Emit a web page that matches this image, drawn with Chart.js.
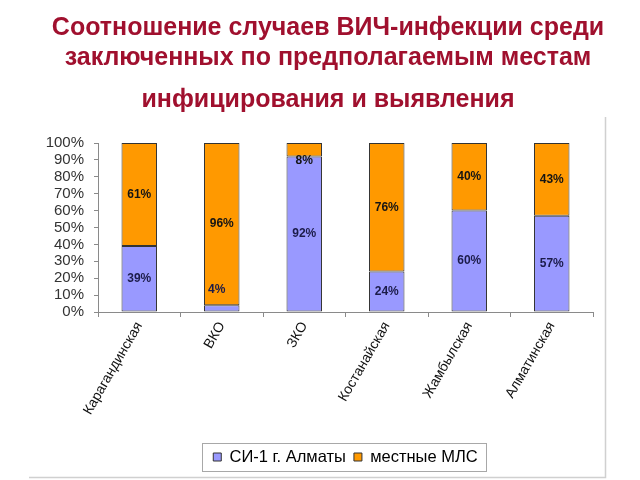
<!DOCTYPE html>
<html>
<head>
<meta charset="utf-8">
<script src="https://cdn.jsdelivr.net/npm/chart.js@4/dist/chart.umd.min.js"></script>
<style>
html,body{margin:0;padding:0;background:#fff;}
#wrap{width:640px;height:480px;position:relative;}
</style>
</head>
<body>
<div id="wrap"><canvas id="c" width="640" height="480"></canvas></div>
<script>
const titleLines = ['Соотношение случаев ВИЧ-инфекции среди', 'заключенных по предполагаемым местам'];
const subtitleLine = 'инфицирования и выявления';
const categories = ['Карагандинская', 'ВКО', 'ЗКО', 'Костанайская', 'Жамбылская', 'Алматинская'];
const seriesNames = ['СИ-1 г. Алматы', 'местные МЛС'];
const si1Values = [39, 4, 92, 24, 60, 57];
const localValues = [61, 96, 8, 76, 40, 43];
const yTicks = [0, 10, 20, 30, 40, 50, 60, 70, 80, 90, 100];

const FONT = "'Liberation Sans', Arial, sans-serif";

const labelPlugin = {
  id: 'segLabels',
  afterDatasetsDraw(chart) {
    const ctx = chart.ctx;
    ctx.save();
    ctx.font = 'bold 12px ' + FONT;
    ctx.textAlign = 'center';
    ctx.textBaseline = 'middle';
    chart.data.datasets.forEach((ds, di) => {
      const meta = chart.getDatasetMeta(di);
      meta.data.forEach((el, i) => {
        const v = ds.data[i];
        const top = Math.min(el.y, el.base), bot = Math.max(el.y, el.base);
        let x = el.x, y = (top + bot) / 2;
        if (bot - top < 16) {
          if (di === 0) { y = top - 16; x = el.x - 5; }
          else { y = bot + 4; }
        }
        ctx.fillStyle = di === 0 ? '#1c1c4a' : '#141414';
        ctx.fillText(v + '%', x, y);
      });
    });
    ctx.restore();
  }
};

const framePlugin = {
  id: 'frame',
  afterDraw(chart) {
    const ctx = chart.ctx;
    ctx.save();
    ctx.strokeStyle = '#d0d0d0';
    ctx.lineWidth = 1.5;
    ctx.beginPath();
    ctx.moveTo(605.5, 117);
    ctx.lineTo(605.5, 477.5);
    ctx.lineTo(29, 477.5);
    ctx.stroke();
    const lg = chart.legend;
    if (lg && lg.legendHitBoxes && lg.legendHitBoxes.length) {
      const hb = lg.legendHitBoxes;
      const last = hb[hb.length - 1];
      const l = hb[0].left - 11;
      const r = last.left + last.width + 9;
      const t = hb[0].top - 5.75;
      const b = hb[0].top + hb[0].height + 5.25;
      ctx.strokeStyle = '#a8a8a8';
      ctx.lineWidth = 1;
      ctx.strokeRect(Math.round(l) + 0.5, Math.round(t) + 0.5, Math.round(r - l), Math.round(b - t));
    }
    ctx.restore();
  }
};

new Chart(document.getElementById('c'), {
  type: 'bar',
  data: {
    labels: categories,
    datasets: [
      { label: seriesNames[0], data: si1Values, backgroundColor: '#9999FF', borderColor: '#333333', borderWidth: 1, borderSkipped: false, categoryPercentage: 1, barPercentage: 0.43 },
      { label: seriesNames[1], data: localValues, backgroundColor: '#FF9900', borderColor: '#333333', borderWidth: 1, borderSkipped: false, categoryPercentage: 1, barPercentage: 0.43 }
    ]
  },
  options: {
    responsive: false,
    animation: false,
    devicePixelRatio: 1,
    layout: { padding: { left: 16, right: 0, top: 0, bottom: 4.75 } },
    plugins: {
      title: {
        display: true,
        text: titleLines,
        color: '#A0102E',
        font: { family: FONT, size: 25, weight: 'bold', lineHeight: 1.2 },
        padding: { top: 13, bottom: 8 }
      },
      subtitle: {
        display: true,
        text: subtitleLine,
        color: '#A0102E',
        font: { family: FONT, size: 25, weight: 'bold', lineHeight: 1.2 },
        padding: { top: 4, bottom: 28 }
      },
      legend: {
        position: 'bottom',
        fullSize: false,
        labels: {
          color: '#222',
          font: { family: FONT, size: 16.5 },
          boxWidth: 8,
          boxHeight: 8,
          padding: 8,
          generateLabels(chart) {
            return chart.data.datasets.map((ds, i) => ({
              text: ds.label,
              fillStyle: ds.backgroundColor,
              strokeStyle: '#333',
              lineWidth: 1,
              datasetIndex: i,
              hidden: false
            }));
          }
        }
      },
      tooltip: { enabled: false }
    },
    scales: {
      x: {
        stacked: true,
        offset: true,
        border: { display: true, color: '#8a8a8a' },
        grid: { display: true, drawOnChartArea: false, drawTicks: true, tickLength: 5, color: '#8a8a8a', offset: true },
        ticks: { color: '#111', font: { family: FONT, size: 14 }, minRotation: 60, maxRotation: 60, autoSkip: false, padding: 2 },
        afterFit(s) { s.height = 128.75; }
      },
      y: {
        stacked: true,
        min: 0,
        max: 100,
        afterBuildTicks(s) { s.ticks = yTicks.map(v => ({ value: v })); },
        border: { display: true, color: '#8a8a8a' },
        grid: { display: true, drawOnChartArea: false, drawTicks: true, tickLength: 4, color: '#8a8a8a' },
        ticks: { color: '#333', font: { family: FONT, size: 15 }, padding: 10, autoSkip: false, callback: v => v + '%' },
        afterFit(s) { s.width = 82; }
      },
      y2: {
        position: 'right',
        display: true,
        border: { display: false },
        grid: { display: false },
        ticks: { display: false },
        afterFit(s) { s.width = 47; }
      }
    }
  },
  plugins: [labelPlugin, framePlugin]
});
</script>
</body>
</html>
